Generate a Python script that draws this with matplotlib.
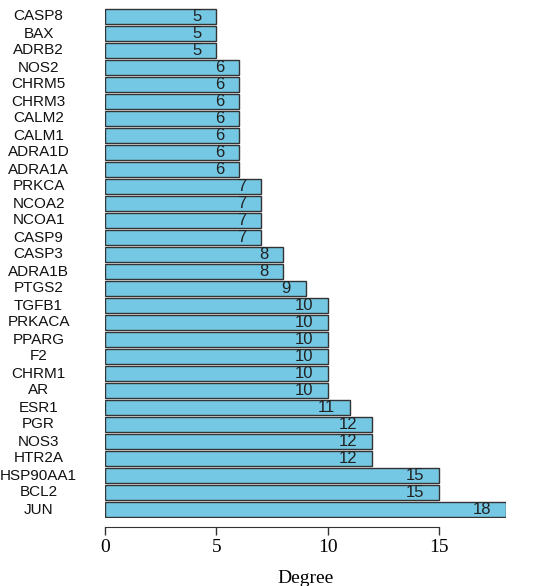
import matplotlib
matplotlib.use("Agg")
import matplotlib.pyplot as plt
import numpy as np

genes = ["CASP8", "BAX", "ADRB2", "NOS2", "CHRM5", "CHRM3", "CALM2", "CALM1",
         "ADRA1D", "ADRA1A", "PRKCA", "NCOA2", "NCOA1", "CASP9", "CASP3", "ADRA1B",
         "PTGS2", "TGFB1", "PRKACA", "PPARG", "F2", "CHRM1", "AR", "ESR1", "PGR",
         "NOS3", "HTR2A", "HSP90AA1", "BCL2", "JUN"]
degree = [5, 5, 5, 6, 6, 6, 6, 6, 6, 6, 7, 7, 7, 7, 8, 8, 9, 10, 10, 10, 10, 10,
          10, 11, 12, 12, 12, 15, 15, 18]
xticks = [0, 5, 10, 15]

W, H = 534, 586
fig = plt.figure(figsize=(W / 100, H / 100), dpi=100)
n = len(genes)
pitch = (509.5 - 16.5) / (n - 1)
top_px = 16.5 - 0.5 * pitch
bot_px = 509.5 + 0.5 * pitch
left_px, right_px = 105, 506
ax = fig.add_axes([left_px / W, 1 - bot_px / H, (right_px - left_px) / W, (bot_px - top_px) / H])

ypos = np.arange(n)[::-1]
ax.barh(ypos, degree, height=0.87, color="#74C8E4", edgecolor="#333333", linewidth=1.0, zorder=2)
for y, v in zip(ypos, degree):
    ax.text(v - 0.66, y, str(v), ha="right", va="center", fontsize=12,
            family="Liberation Sans", color="#222222", zorder=3)

ax.set_xlim(0, 18)
ax.set_ylim(-0.5, n - 0.5)
ax.set_yticks(ypos)
ax.set_yticklabels([])
for y, g in zip(ypos, genes):
    ax.text(-66.5 / (right_px - left_px) * 18, y, g, ha="center", va="center", fontsize=11,
            family="Liberation Sans", color="#111111")
ax.tick_params(axis="y", length=0)

for s in ["top", "right", "left"]:
    ax.spines[s].set_visible(False)
ax.spines["bottom"].set_position(("outward", 6.5))
ax.spines["bottom"].set_bounds(0, 15)
ax.spines["bottom"].set_color("#333333")
ax.set_xticks(xticks)
ax.set_xticklabels([str(t) for t in xticks], family="Liberation Serif", fontsize=14)
ax.tick_params(axis="x", length=6, width=1, color="#333333", pad=2.5)
ax.set_xlabel("Degree", family="Liberation Serif", fontsize=14, labelpad=10)

fig.savefig("out.png", dpi=100, facecolor="white")
